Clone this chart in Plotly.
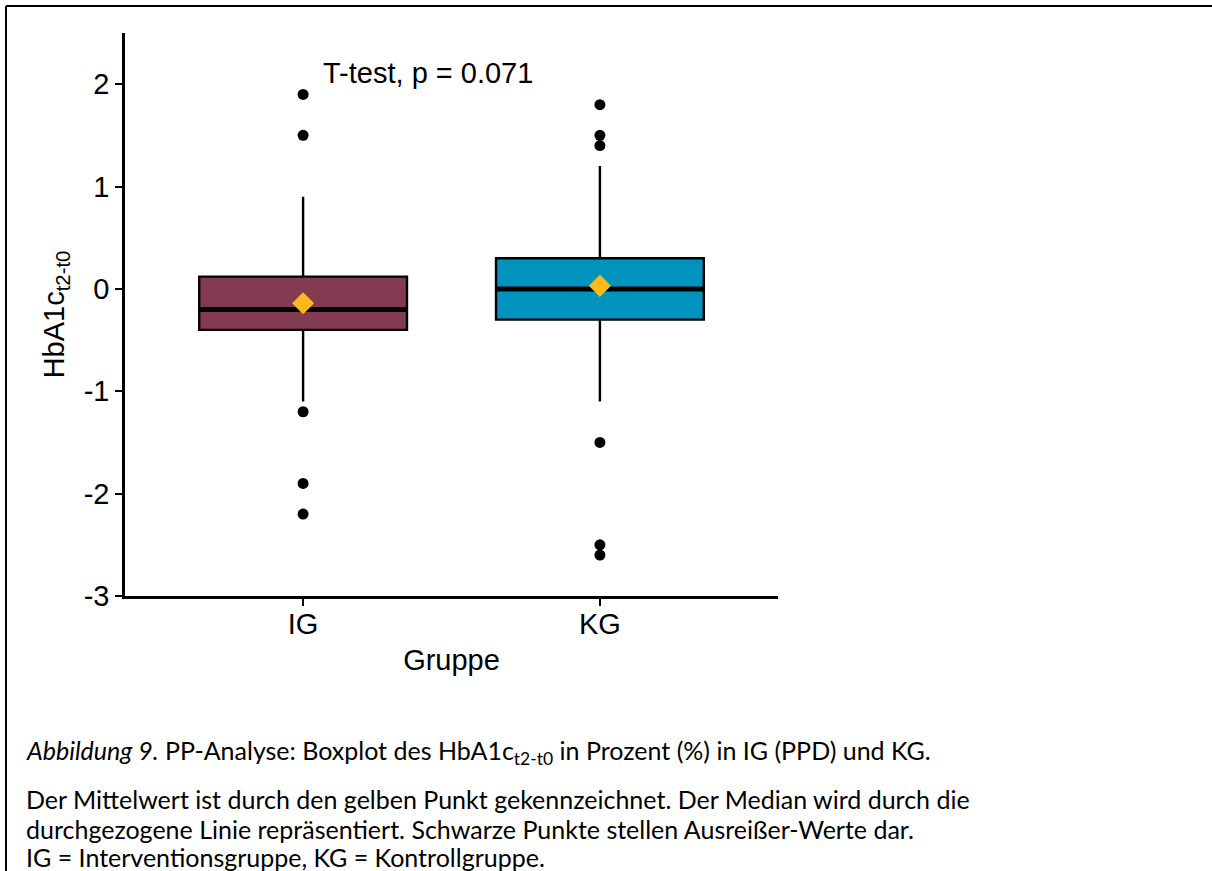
import plotly.graph_objects as go

# Group labels and positions on the x axis
groups = ["IG", "KG"]
positions = [1, 2]

# Box statistics of HbA1c change (t2 - t0), in %
q1 = [-0.40, -0.30]
median = [-0.20, 0.00]
q3 = [0.12, 0.30]
lower_whisker = [-1.10, -1.10]
upper_whisker = [0.90, 1.20]
mean = [-0.14, 0.03]

# Outlying observations per group
outliers_ig = [1.9, 1.5, -1.2, -1.9, -2.2]
outliers_kg = [1.8, 1.5, 1.4, -1.5, -2.5, -2.6]

fill_colors = ["#843A50", "#0093BE"]
box_width = 0.7

W, H = 1212, 871
L, R, T, B = 125, 434, 33, 275
plot_w = W - L - R
plot_h = H - T - B


def px(x):
    return (x - L) / plot_w


def py(y):
    return (H - B - y) / plot_h


fig = go.Figure()

for pos, g, a, m, b, lo, hi, c in zip(positions, groups, q1, median, q3,
                                     lower_whisker, upper_whisker, fill_colors):
    fig.add_trace(go.Box(
        x=[pos], q1=[a], median=[m], q3=[b], lowerfence=[lo], upperfence=[hi],
        width=box_width, fillcolor=c, line=dict(color="black", width=2.4),
        whiskerwidth=0, boxpoints=False, name=g, showlegend=False,
        hoverinfo="skip",
    ))
    # thick median bar
    fig.add_trace(go.Scatter(
        x=[pos - box_width / 2, pos + box_width / 2], y=[m, m], mode="lines",
        line=dict(color="black", width=5), showlegend=False, hoverinfo="skip",
    ))

# outliers
for pos, vals in zip(positions, [outliers_ig, outliers_kg]):
    fig.add_trace(go.Scatter(
        x=[pos] * len(vals), y=vals, mode="markers",
        marker=dict(color="black", size=11), showlegend=False,
    ))

# group means
fig.add_trace(go.Scatter(
    x=positions, y=mean, mode="markers",
    marker=dict(symbol="diamond", color="#FBBA1C", size=17, line=dict(width=0)),
    showlegend=False,
))

axis_font = dict(family="Liberation Sans, Arial, sans-serif", size=29, color="black")

fig.update_layout(
    width=W, height=H,
    margin=dict(l=L, r=R, t=T, b=B),
    paper_bgcolor="white", plot_bgcolor="white",
    font=axis_font,
    xaxis=dict(
        range=[0.4, 2.6], tickvals=positions, ticktext=groups,
        showline=True, linecolor="black", linewidth=2.5, mirror=False,
        ticks="outside", ticklen=7, tickwidth=2, tickcolor="black",
        ticklabelstandoff=-7,
        showgrid=False, zeroline=False, tickfont=axis_font,
        title=dict(text="Gruppe", font=axis_font, standoff=12),
    ),
    yaxis=dict(
        range=[-3, 2.5], tickvals=[-3, -2, -1, 0, 1, 2],
        ticktext=["-3", "-2", "-1", "0", "1", "2"],
        showline=True, linecolor="black", linewidth=2.5,
        ticks="outside", ticklen=7, tickwidth=2, tickcolor="black",
        showgrid=False, zeroline=False, tickfont=axis_font,
        title=dict(text="HbA1c<sub>t2-t0</sub>", font=axis_font, standoff=11),
    ),
)

# test result
fig.add_annotation(
    x=1.06, y=2.11, xref="x", yref="y", text="T-test, p = 0.071",
    showarrow=False, xanchor="left", yanchor="middle", font=axis_font,
)

# frame around the figure (top and left edges)
frame = dict(color="black", width=2)
fig.add_shape(type="line", xref="paper", yref="paper",
              x0=px(6), x1=px(W + 5), y0=py(6), y1=py(6), line=frame)
fig.add_shape(type="line", xref="paper", yref="paper",
              x0=px(6), x1=px(6), y0=py(6), y1=py(H + 5), line=frame)

# caption
cap_font = dict(family="Lato, Carlito, sans-serif", size=25, color="black")
caption = [
    (752, "<i>Abbildung 9.</i> PP-Analyse: Boxplot des HbA1c<sub>t2-t0</sub> in Prozent (%) in IG (PPD) und KG."),
    (799, "Der Mittelwert ist durch den gelben Punkt gekennzeichnet. Der Median wird durch die"),
    (829, "durchgezogene Linie repräsentiert. Schwarze Punkte stellen Ausreißer-Werte dar."),
    (857, "IG = Interventionsgruppe, KG = Kontrollgruppe."),
]
for yy, txt in caption:
    fig.add_annotation(
        x=px(24), y=py(yy), xref="paper", yref="paper", text=txt,
        showarrow=False, xanchor="left", yanchor="middle", font=cap_font,
        align="left",
    )

fig.write_html("out.html")
